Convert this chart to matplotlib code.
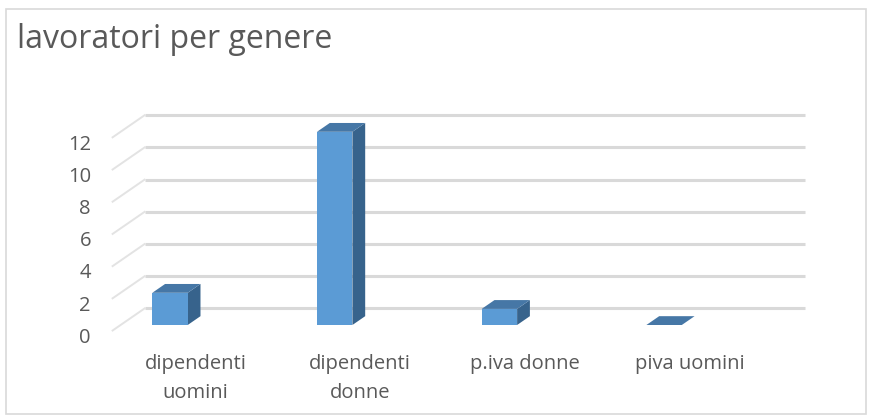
import numpy as np
import matplotlib.pyplot as plt
from matplotlib.patches import Polygon, Rectangle

plt.rcParams['font.family'] = ['Open Sans', 'DejaVu Sans']

# dati
categorie = ['dipendenti\nuomini', 'dipendenti\ndonne', 'p.iva donne', 'piva uomini']
valori = [2, 12, 1, 0]
yticks = [0, 2, 4, 6, 8, 10, 12]
titolo = 'lavoratori per genere'

# finto 3D (profondita' in unita' dati)
DX = 0.194      # spostamento orizzontale fronte -> fondo
DY = 1.37       # spostamento verticale fronte -> fondo
W = 0.215       # larghezza barra
F0, F1 = 0.25, 0.65   # profondita' della barra
X_LEFT, X_RIGHT = -0.30, 3.71

c_front = '#5b9bd5'
c_top = '#4677a6'
c_side = '#37638c'
c_grid = '#d9d9d9'
c_text = '#595959'


def proj(x, v, f):
    return x + (f - F0) * DX, v + (f - F0) * DY


fig = plt.figure(figsize=(8.69, 4.18), dpi=100)
ax = fig.add_axes([0, 0, 1, 1])
ax.set_xlim(-170 / 164.7, (869 - 170) / 164.7)
ax.set_ylim((325 - 418) / 16.1, 325 / 16.1)
ax.axis('off')

# bordo
fig.patches.append(Rectangle((6 / 869, 4 / 418), 860 / 869, 405 / 418, transform=fig.transFigure,
                             fill=False, edgecolor=c_grid, lw=1.2))

# griglia sul fondo e diagonali della parete
for v in yticks:
    x0, y0 = proj(X_LEFT, v, 1)
    x1, y1 = proj(X_RIGHT, v, 1)
    ax.plot([x0, x1], [y0, y1], color=c_grid, lw=2.2, solid_capstyle='butt', zorder=1)
    xa, ya = proj(X_LEFT, v, 0)
    ax.plot([xa, x0], [ya, y0], color='#e3e3e3', lw=1.4, zorder=1)
    ax.text(-0.48, ya - 0.45, str(v), ha='right', va='center', fontsize=14.5, color=c_text)

# barre
for i, v in enumerate(valori):
    xl, xr = i - W / 2, i + W / 2
    front = [proj(xl, 0, F0), proj(xr, 0, F0), proj(xr, v, F0), proj(xl, v, F0)]
    top = [proj(xl, v, F0), proj(xr, v, F0), proj(xr, v, F1), proj(xl, v, F1)]
    side = [proj(xr, 0, F0), proj(xr, 0, F1), proj(xr, v, F1), proj(xr, v, F0)]
    ax.add_patch(Polygon(side, closed=True, facecolor=c_side, edgecolor='none', zorder=3))
    ax.add_patch(Polygon(front, closed=True, facecolor=c_front, edgecolor='none', zorder=3))
    ax.add_patch(Polygon(top, closed=True, facecolor=c_top, edgecolor='none', zorder=3))
    ax.text(i + 0.155, -1.8, categorie[i], ha='center', va='top', fontsize=14.5,
            color=c_text, linespacing=1.62)

fig.text(17 / 869, 1 - 39 / 418, titolo, ha='left', va='center', fontsize=23, color=c_text)

fig.savefig('out.png', dpi=100)
